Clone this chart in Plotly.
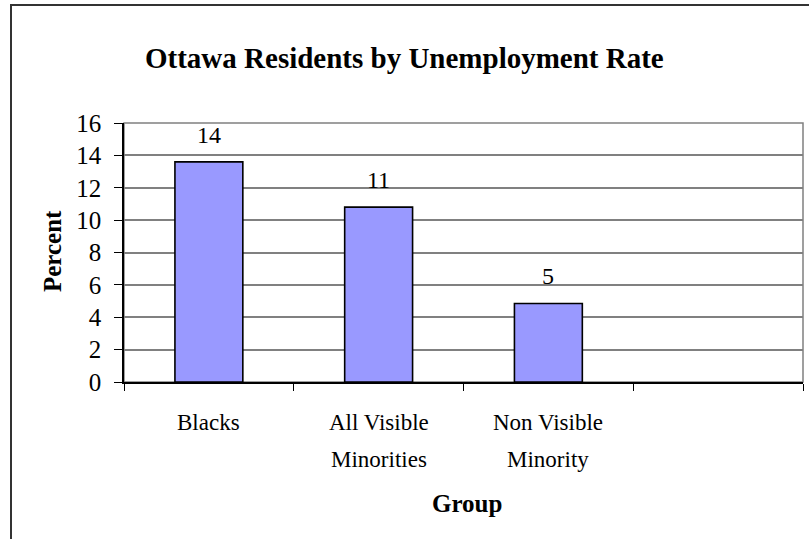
import plotly.graph_objects as go

# Unemployment rate (%) by group in Ottawa
categories = ["Blacks", "All Visible<br>Minorities", "Non Visible<br>Minority", " "]
rates = [13.6, 10.8, 4.85]
rate_labels = ["14", "11", "5"]
y_ticks = [0, 2, 4, 6, 8, 10, 12, 14, 16]

W, H = 809, 539
L, R, T, B = 124, 6, 123, 157
pw, ph = W - L - R, H - T - B

FONT = "Liberation Serif"


def px_x(p):
    return (p - L) / pw


def px_y(p):
    return (H - B - p) / ph


fig = go.Figure()
fig.add_trace(go.Bar(
    x=categories[:len(rates)],
    y=rates,
    width=0.4,
    marker=dict(color="#9999FF", line=dict(color="#000000", width=1.6)),
    hoverinfo="skip",
))

annotations = []
# value labels above bars
for cat, val, lab in zip(categories, rates, rate_labels):
    annotations.append(dict(
        x=cat, y=val, xref="x", yref="y", text=lab, showarrow=False,
        yanchor="bottom", yshift=12, font=dict(family=FONT, size=24, color="#000000"),
    ))

# category labels, one annotation per line for wide line spacing
LINE_Y = [422, 459]
for cat in categories:
    for i, line in enumerate(cat.split("<br>")):
        if not line.strip():
            continue
        annotations.append(dict(
            x=cat, y=px_y(LINE_Y[i]), xref="x", yref="paper", text=line,
            showarrow=False, xanchor="center", yanchor="middle",
            font=dict(family=FONT, size=23, color="#000000"),
        ))

annotations += [
    dict(text="<b>Ottawa Residents by Unemployment Rate</b>", xref="paper", yref="paper",
         x=px_x(404), y=px_y(58), showarrow=False, xanchor="center", yanchor="middle",
         font=dict(family=FONT, size=29, color="#000000")),
    dict(text="<b>Percent</b>", xref="paper", yref="paper", textangle=-90,
         x=px_x(52), y=px_y(251), showarrow=False, xanchor="center", yanchor="middle",
         font=dict(family=FONT, size=25, color="#000000")),
    dict(text="<b>Group</b>", xref="paper", yref="paper",
         x=px_x(467), y=px_y(503), showarrow=False, xanchor="center", yanchor="middle",
         font=dict(family=FONT, size=25, color="#000000")),
]

shapes = [
    # plot area frame
    dict(type="rect", xref="paper", yref="paper", x0=0, x1=1, y0=0, y1=1,
         line=dict(color="#808080", width=1.5), layer="below"),
    # chart area frame
    dict(type="rect", xref="paper", yref="paper",
         x0=px_x(11), x1=px_x(W + 20), y0=px_y(5), y1=px_y(H + 20),
         line=dict(color="#333333", width=2)),
]

fig.update_layout(
    width=W, height=H,
    margin=dict(l=L, r=R, t=T, b=B),
    paper_bgcolor="#FFFFFF", plot_bgcolor="#FFFFFF",
    showlegend=False,
    annotations=annotations,
    shapes=shapes,
    xaxis=dict(
        type="category", categoryorder="array", categoryarray=categories,
        range=[-0.5, 3.5], tickson="boundaries", ticks="outside", ticklen=7,
        tickcolor="#000000", tickwidth=1.2, showgrid=False, showticklabels=False,
        showline=True, linecolor="#000000", linewidth=1.6,
        fixedrange=True,
    ),
    yaxis=dict(
        range=[0, 16], tickvals=y_ticks, ticks="outside", ticklen=8,
        tickcolor="#000000", tickwidth=1.2, ticklabelstandoff=8,
        showgrid=True, gridcolor="#808080", gridwidth=1.5,
        showline=True, linecolor="#000000", linewidth=1.6,
        zeroline=False,
        tickfont=dict(family=FONT, size=25, color="#000000"),
        fixedrange=True,
    ),
)

fig.write_html("out.html")
